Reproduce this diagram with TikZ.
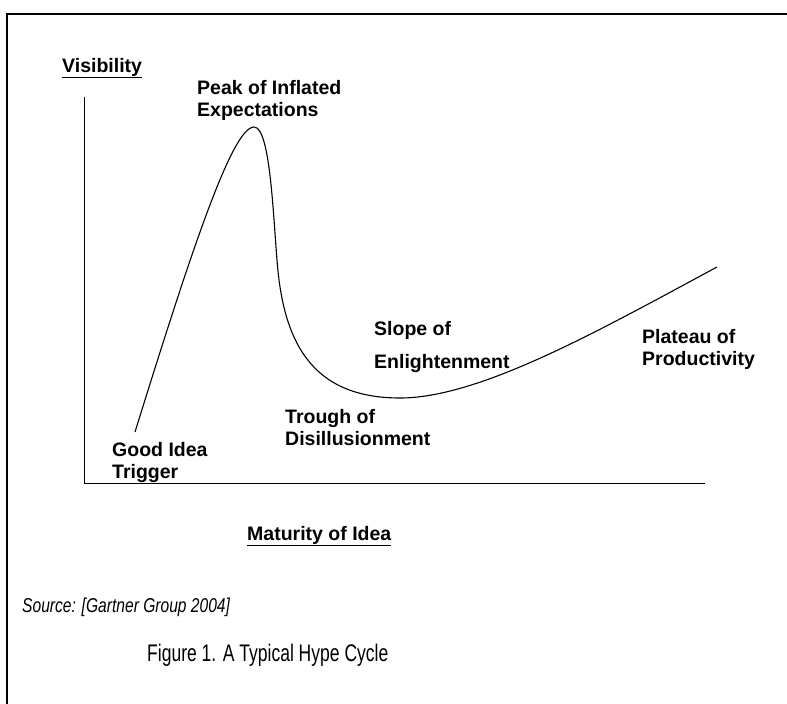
\documentclass[tikz,border=0pt]{standalone}
\usepackage{fontspec}
\setmainfont{Liberation Sans}
\newfontfamily\narrowfont[FakeStretch=0.78]{Liberation Sans}
\newfontfamily\capfont[FakeStretch=0.73]{Liberation Sans}
\tikzset{
  lbl/.style={font=\bfseries\fontsize{19.5}{22}\selectfont, align=left, anchor=north west, inner sep=0pt},
  axislbl/.style={font=\bfseries\fontsize{19.5}{22}\selectfont, anchor=base west, inner sep=0pt}
}
\begin{document}
\begin{tikzpicture}[x=1pt, y=-1pt]
\useasboundingbox (0,0) rectangle (787,704);
\begin{scope}
\clip (0,0) rectangle (787,704);
\draw [line width=2pt] (7,14) rectangle (800,720);
\end{scope}

\coordinate (top) at (84,97);
\coordinate (o) at (84,483);
\coordinate (right) at (705,483);
\draw [line width=1pt] (top) -- (o) -- (right);

% the hype curve
\coordinate (start) at (135,432);
\coordinate (peakpt) at (254,127);
\coordinate (fall) at (277,260);
\coordinate (low) at (400,398);
\coordinate (end) at (717,267);
\draw [line width=1.1pt] (start) .. controls (190,255) and (232,127) .. (peakpt)
  .. controls (270,127) and (273,212) .. (fall)
  .. controls (283,340) and (310,398) .. (low)
  .. controls (480,398) and (600,330) .. (end);

\node (vis) [axislbl] at (62,72) {\underline{Visibility}};
\node (mat) [axislbl] at (247,540) {\underline{Maturity of Idea}};

\node (peak) [lbl] at (197,80) {Peak of Inflated \\ Expectations};
\node (trig) [lbl] at (112,442) {Good Idea \\ Trigger};
\node (trough) [lbl] at (285,409) {Trough of \\ Disillusionment};
\node (slope) [lbl] at (374,321) {Slope of \\[11pt] Enlightenment};
\node (plat) [lbl] at (642,329) {Plateau of \\ Productivity};

\node (src) [anchor=base west, inner sep=0pt, font=\narrowfont\itshape\fontsize{20}{24}\selectfont] at (22,612) {Source: [Gartner Group 2004]};
\node (cap) [anchor=base west, inner sep=0pt, font=\capfont\fontsize{24}{28}\selectfont] at (147,661) {Figure 1. A Typical Hype Cycle};
\end{tikzpicture}
\end{document}
